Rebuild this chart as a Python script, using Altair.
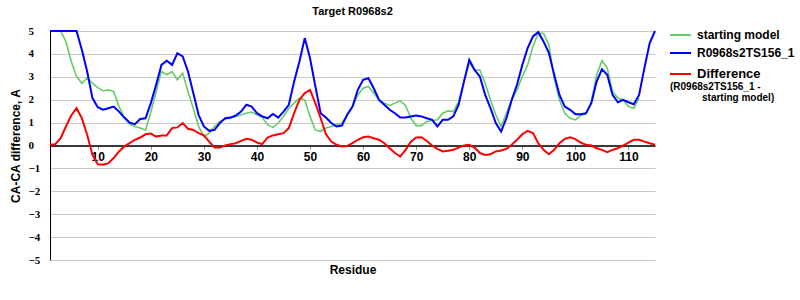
import altair as alt
import pandas as pd

residues_blue = list(range(1, 116))
blue = [5, 5, 5, 5, 5, 5, 4.18, 3.23, 2.07, 1.67,
        1.56, 1.63, 1.70, 1.48, 1.22, 1.00, 0.93, 1.16, 1.19, 1.85,
        2.65, 3.52, 3.70, 3.52, 4.03, 3.89, 3.23, 2.29, 1.34, 0.83,
        0.64, 0.68, 0.98, 1.19, 1.22, 1.31, 1.48, 1.78, 1.70, 1.41,
        1.27, 1.19, 1.38, 1.22, 1.48, 1.78, 2.79, 3.67, 4.69, 3.81,
        2.58, 1.41, 1.22, 0.98, 0.83, 0.87, 1.34, 1.70, 2.43, 2.87,
        2.94, 2.50, 1.99, 1.78, 1.56, 1.41, 1.22, 1.22, 1.27, 1.31,
        1.27, 1.19, 1.12, 0.83, 1.12, 1.12, 1.27, 1.78, 2.79, 3.74,
        3.30, 3.01, 2.21, 1.63, 0.98, 0.61, 1.19, 1.99, 2.65, 3.52,
        4.25, 4.76, 4.95, 4.54, 4.05, 3.09, 2.21, 1.70, 1.56, 1.37,
        1.37, 1.41, 1.85, 2.79, 3.33, 3.09, 2.21, 1.89, 1.99, 1.89,
        1.80, 2.21, 3.38, 4.47, 5.0]

residues_green = list(range(1, 113))
green = [5, 5, 5, 4.54, 3.67, 3.01, 2.72, 2.94, 2.72, 2.53,
         2.39, 2.43, 2.36, 1.70, 1.22, 0.93, 0.83, 0.76, 0.68, 1.45,
         2.36, 3.23, 3.09, 3.23, 2.87, 3.16, 2.36, 1.63, 0.83, 0.39,
         0.54, 0.83, 1.05, 1.16, 1.19, 1.27, 1.34, 1.41, 1.46, 1.34,
         1.22, 0.90, 0.79, 0.98, 1.27, 1.63, 1.85, 2.07, 1.99, 1.27,
         0.68, 0.61, 0.76, 0.83, 0.90, 0.98, 1.34, 1.70, 2.21, 2.50,
         2.58, 2.29, 1.99, 1.85, 1.75, 1.85, 1.95, 1.75, 1.19, 0.87,
         0.87, 1.05, 1.08, 1.12, 1.41, 1.51, 1.48, 1.92, 2.79, 3.60,
         3.30, 3.30, 2.72, 1.99, 1.34, 0.83, 1.41, 1.99, 2.43, 3.01,
         3.52, 4.32, 4.90, 4.90, 4.40, 2.94, 1.99, 1.41, 1.19, 1.12,
         1.31, 1.37, 1.92, 3.09, 3.70, 3.38, 2.36, 2.07, 1.99, 1.70,
         1.63, 2.07]

residues_red = list(range(1, 116))
red = [0.03, 0.06, 0.32, 0.83, 1.31, 1.63, 1.19, 0.47, -0.41, -0.82,
       -0.84, -0.77, -0.55, -0.26, -0.04, 0.10, 0.25, 0.35, 0.49, 0.52,
       0.39, 0.44, 0.44, 0.76, 0.79, 0.98, 0.73, 0.68, 0.54, 0.44,
       0.17, -0.09, -0.09, 0.00, 0.06, 0.10, 0.20, 0.29, 0.25, 0.13,
       0.06, 0.35, 0.44, 0.49, 0.54, 0.76, 1.41, 1.99, 2.29, 2.43,
       1.85, 1.19, 0.49, 0.17, 0.03, -0.04, -0.02, 0.10, 0.25, 0.36,
       0.39, 0.32, 0.25, 0.10, -0.12, -0.33, -0.48, -0.19, 0.17, 0.35,
       0.36, 0.20, 0.00, -0.15, -0.26, -0.23, -0.19, -0.09, 0.00, 0.03,
       -0.09, -0.33, -0.41, -0.38, -0.26, -0.22, -0.15, 0.03, 0.25, 0.49,
       0.64, 0.54, 0.10, -0.19, -0.38, -0.19, 0.10, 0.29, 0.36, 0.28,
       0.13, 0.03, 0.00, -0.12, -0.19, -0.29, -0.19, -0.12, 0.00, 0.13,
       0.25, 0.25, 0.17, 0.10, 0.03]

y_ticks = [-5, -4, -3, -2, -1, 0, 1, 2, 3, 4, 5]
x_ticks = [10, 20, 30, 40, 50, 60, 70, 80, 90, 100, 110]

names = ["starting model", "R0968s2TS156_1", "Difference"]
colors = ["#66cc66", "#0000ff", "#ff0000"]
widths = [1.6, 2, 2]

df_green = pd.DataFrame({"Residue": residues_green, "value": green})
df_blue = pd.DataFrame({"Residue": residues_blue, "value": blue})
df_red = pd.DataFrame({"Residue": residues_red, "value": red})

W, H = 605, 229
FONT = "Liberation Sans"

xenc = alt.X("Residue:Q",
             scale=alt.Scale(domain=[1, 115], nice=False, zero=False),
             axis=alt.Axis(values=x_ticks, grid=False, offset=-H / 2,
                           domainColor="black", domainWidth=1.5,
                           tickColor="#999999", tickSize=4,
                           labelFont=FONT, labelFontWeight="bold",
                           labelFontSize=12, labelColor="black",
                           labelPadding=2,
                           title="Residue", titleFont=FONT,
                           titleFontSize=12, titleFontWeight="bold",
                           titleY=124, titleBaseline="middle",
                           titleColor="black"))
yenc = alt.Y("value:Q",
             scale=alt.Scale(domain=[-5, 5], nice=False),
             axis=alt.Axis(values=y_ticks, grid=True, gridColor="#c8c8c8",
                           gridWidth=1, ticks=False, domainColor="black",
                           domainWidth=1,
                           labelAlign="left", labelPadding=22,
                           labelFont="Liberation Serif", labelFontWeight="bold",
                           labelFontSize=11, labelColor="black",
                           labelBaseline="middle",
                           title="CA-CA difference, A", titleFont=FONT,
                           titleFontSize=12, titleFontWeight="bold",
                           titleX=-35, titleY=H / 2, titleAngle=-90,
                           titleBaseline="middle", titleAlign="center",
                           titleColor="black"))

def series(df, color, w):
    return alt.Chart(df).mark_line(color=color, strokeWidth=w,
                                   interpolate="linear").encode(x=xenc, y=yenc)

def one():
    return alt.Data(values=[{}])

legend_layers = []
leg_y = [4, 22, 43]
leg_size = [12, 12, 13]
for nm, col, yy, fs in zip(names, colors, leg_y, leg_size):
    legend_layers.append(
        alt.Chart(one()).mark_rule(color=col, strokeWidth=2).encode(
            x=alt.value(620), x2=alt.value(641), y=alt.value(yy)))
    legend_layers.append(
        alt.Chart(one()).mark_text(text=nm, align="left", baseline="middle",
                                   font=FONT, fontWeight="bold", fontSize=fs,
                                   color="black").encode(
            x=alt.value(647), y=alt.value(yy)))
legend_layers.append(
    alt.Chart(one()).mark_text(text="(R0968s2TS156_1 -", align="left",
                               baseline="middle", font=FONT, fontWeight="bold",
                               fontSize=10, color="black").encode(
        x=alt.value(620), y=alt.value(56)))
legend_layers.append(
    alt.Chart(one()).mark_text(text="starting model)", align="left",
                               baseline="middle", font=FONT, fontWeight="bold",
                               fontSize=10, color="black").encode(
        x=alt.value(652), y=alt.value(67)))

chart = alt.layer(
    series(df_green, colors[0], widths[0]),
    series(df_blue, colors[1], widths[1]),
    series(df_red, colors[2], widths[2]),
    *legend_layers
).properties(
    width=W, height=H,
    title=alt.TitleParams("Target R0968s2", font=FONT, fontSize=11,
                          fontWeight="bold", anchor="middle", offset=8,
                          color="black"),
    autosize=alt.AutoSizeParams(type="none"),
    padding={"left": 50, "top": 31, "right": 145, "bottom": 40},
    background="white",
).configure_view(stroke=None)

chart.save("out.html", embed_options={"renderer": "svg", "actions": False})
